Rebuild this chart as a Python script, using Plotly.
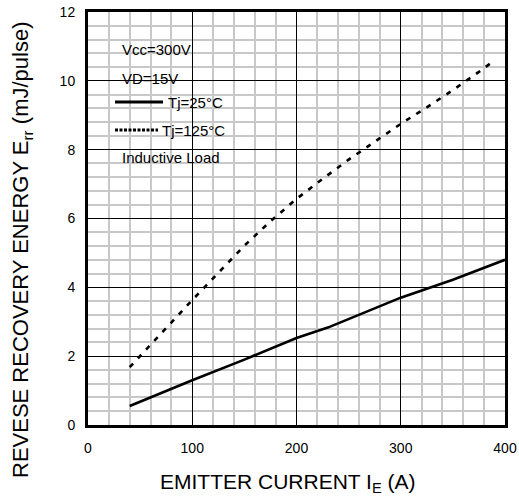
import plotly.graph_objects as go

# Data
ie_25 = [40, 60, 80, 100, 150, 200, 230, 250, 300, 350, 400]
err_25 = [0.55, 0.8, 1.05, 1.30, 1.90, 2.53, 2.83, 3.08, 3.70, 4.22, 4.80]
ie_125 = [40, 60, 80, 100, 125, 150, 175, 200, 225, 250, 275, 300, 325, 350, 375, 388]
err_125 = [1.68, 2.33, 3.0, 3.63, 4.42, 5.21, 5.92, 6.57, 7.15, 7.71, 8.23, 8.75, 9.23, 9.73, 10.26, 10.55]

legend_lines = ["Vcc=300V", "VD=15V", "Tj=25°C", "Tj=125°C", "Inductive Load"]
x_title = "EMITTER CURRENT I<sub>E</sub> (A)"
y_title = "REVESE RECOVERY ENERGY E<sub>rr</sub> (mJ/pulse)"
x_range = [0, 400]
y_range = [0, 12]

FONT = "Liberation Sans, Arial, sans-serif"

fig = go.Figure()
fig.add_trace(go.Scatter(x=ie_25, y=err_25, mode="lines",
                         line=dict(color="black", width=2.6), showlegend=False))
fig.add_trace(go.Scatter(x=ie_125, y=err_125, mode="lines",
                         line=dict(color="black", width=2.6, dash="5px,7px"), showlegend=False))

axis_common = dict(
    showline=True, linecolor="black", linewidth=3, mirror=True,
    showgrid=True, gridcolor="black", gridwidth=1,
    zeroline=False, ticks="", automargin=False,
    tickfont=dict(family=FONT, size=14, color="black"),
)
fig.update_xaxes(range=x_range, tickmode="linear", tick0=0, dtick=100, ticklabelstandoff=8,
                 minor=dict(tickmode="linear", tick0=0, dtick=20, showgrid=True,
                            gridcolor="#c8c8c8", gridwidth=1.6),
                 **axis_common)
fig.update_yaxes(range=y_range, tickmode="linear", tick0=0, dtick=2, ticklabelstandoff=7,
                 minor=dict(tickmode="linear", tick0=0, dtick=0.4, showgrid=True,
                            gridcolor="#c8c8c8", gridwidth=1.6),
                 **axis_common)

# legend box (semi-transparent white) over grid
fig.add_shape(type="rect", xref="x", yref="y", x0=0, x1=165, y0=7.35, y1=12,
              fillcolor="rgba(255,255,255,0.7)", line=dict(width=0), layer="below")

PL, PB, PW, PH = 88, 425, 417, 413


def px(xp):
    return (xp - PL) / PW


def py(yp):
    return (PB - yp) / PH


ys_px = [50, 78, 103, 130, 157]
xs_px = [120, 120, 166, 160, 120]
for txt, xpx, ypx in zip(legend_lines, xs_px, ys_px):
    fig.add_annotation(x=px(xpx), y=py(ypx), xref="paper", yref="paper",
                       text=txt, showarrow=False, xanchor="left", yanchor="middle",
                       font=dict(family=FONT, size=15, color="black"))
# line samples
fig.add_shape(type="line", xref="paper", yref="paper",
              x0=px(115), x1=px(163), y0=py(102), y1=py(102),
              line=dict(color="black", width=3))
fig.add_shape(type="line", xref="paper", yref="paper",
              x0=px(115), x1=px(158), y0=py(130), y1=py(130),
              line=dict(color="black", width=3, dash="3px,1.5px"))

# axis titles
fig.add_annotation(x=px(288), y=py(483), xref="paper", yref="paper", text=x_title,
                   showarrow=False, xanchor="center", yanchor="middle",
                   font=dict(family=FONT, size=21, color="black"))
fig.add_annotation(x=px(22), y=py(250), xref="paper", yref="paper", text=y_title,
                   showarrow=False, xanchor="center", yanchor="middle", textangle=-90,
                   font=dict(family=FONT, size=22, color="black"))

fig.update_layout(
    width=519, height=499,
    margin=dict(l=PL, r=14, t=12, b=74),
    paper_bgcolor="white", plot_bgcolor="white",
    font=dict(family=FONT, color="black"),
    showlegend=False,
)

fig.write_html("out.html", config={"displayModeBar": False},
               post_script="document.body.style.margin='0px';")
